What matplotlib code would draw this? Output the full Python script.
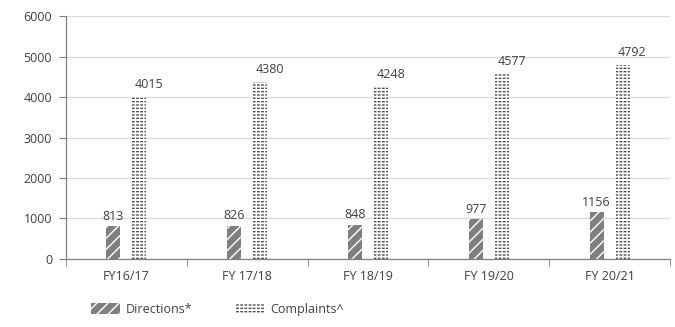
import matplotlib
matplotlib.use("Agg")
import matplotlib.pyplot as plt
from matplotlib.legend_handler import HandlerTuple
import numpy as np

categories = ["FY16/17", "FY 17/18", "FY 18/19", "FY 19/20", "FY 20/21"]
directions = [813, 826, 848, 977, 1156]
complaints = [4015, 4380, 4248, 4577, 4792]
yticks = [0, 1000, 2000, 3000, 4000, 5000, 6000]

plt.rcParams['font.family'] = ['Open Sans', 'DejaVu Sans']
plt.rcParams['hatch.linewidth'] = 1.0
txt = '#404040'
fs = 9

fig = plt.figure(figsize=(6.75, 3.27), dpi=100)
ax = fig.add_axes([0.0978, 0.208, 0.8948, 0.743])

x = np.arange(len(categories))
w = 0.116
off = 0.108
b1 = ax.bar(x - off, directions, w, color='#7f7f7f', edgecolor='white', hatch='///', linewidth=0, label='Directions*', zorder=3)
b2 = ax.bar(x + off, complaints, w, color='white', edgecolor='#4d4d4d', hatch='-----', linewidth=0, label='Complaints^', zorder=3)
b2o = ax.bar(x + off, complaints, w, color='none', edgecolor='white', hatch='||||', linewidth=0, zorder=4)

for xi, v in zip(x - off, directions):
    ax.annotate(str(v), (xi, v), xytext=(0, 2.5), textcoords='offset points', ha='center', va='bottom', fontsize=fs, color=txt)
for xi, v in zip(x + off, complaints):
    ax.annotate(str(v), (xi, v), xytext=(7, 4), textcoords='offset points', ha='center', va='bottom', fontsize=fs, color=txt)

ax.set_xlim(-0.5, len(categories) - 0.5)
ax.set_ylim(0, 6000)
ax.set_yticks(yticks)
ax.set_yticklabels([str(t) for t in yticks])
ax.yaxis.grid(True, color='#d9d9d9', linewidth=0.9, zorder=0)
ax.set_axisbelow(True)

ax.set_xticks(x)
ax.set_xticklabels(categories)
ax.set_xticks(np.arange(-0.5, len(categories)), minor=True)
ax.tick_params(axis='x', which='major', length=0, pad=8, labelsize=fs, labelcolor=txt)
ax.tick_params(axis='x', which='minor', length=5, color='#808080', direction='out')
ax.tick_params(axis='y', length=5, color='#808080', labelsize=fs, labelcolor=txt, pad=5)

for s in ['top', 'right']:
    ax.spines[s].set_visible(False)
for s in ['left', 'bottom']:
    ax.spines[s].set_color('#808080')
    ax.spines[s].set_linewidth(0.9)

leg = fig.legend(handles=[b1, (b2, b2o)], labels=['Directions*', 'Complaints^'],
                 handler_map={tuple: HandlerTuple(ndivide=1)},
                 loc='lower left', bbox_to_anchor=(0.118, 0.0), ncol=2, frameon=False,
                 fontsize=fs, handlelength=2.3, handleheight=1.0, columnspacing=3.4, handletextpad=0.5)
for t in leg.get_texts():
    t.set_color(txt)

fig.savefig('out.png', dpi=100)
